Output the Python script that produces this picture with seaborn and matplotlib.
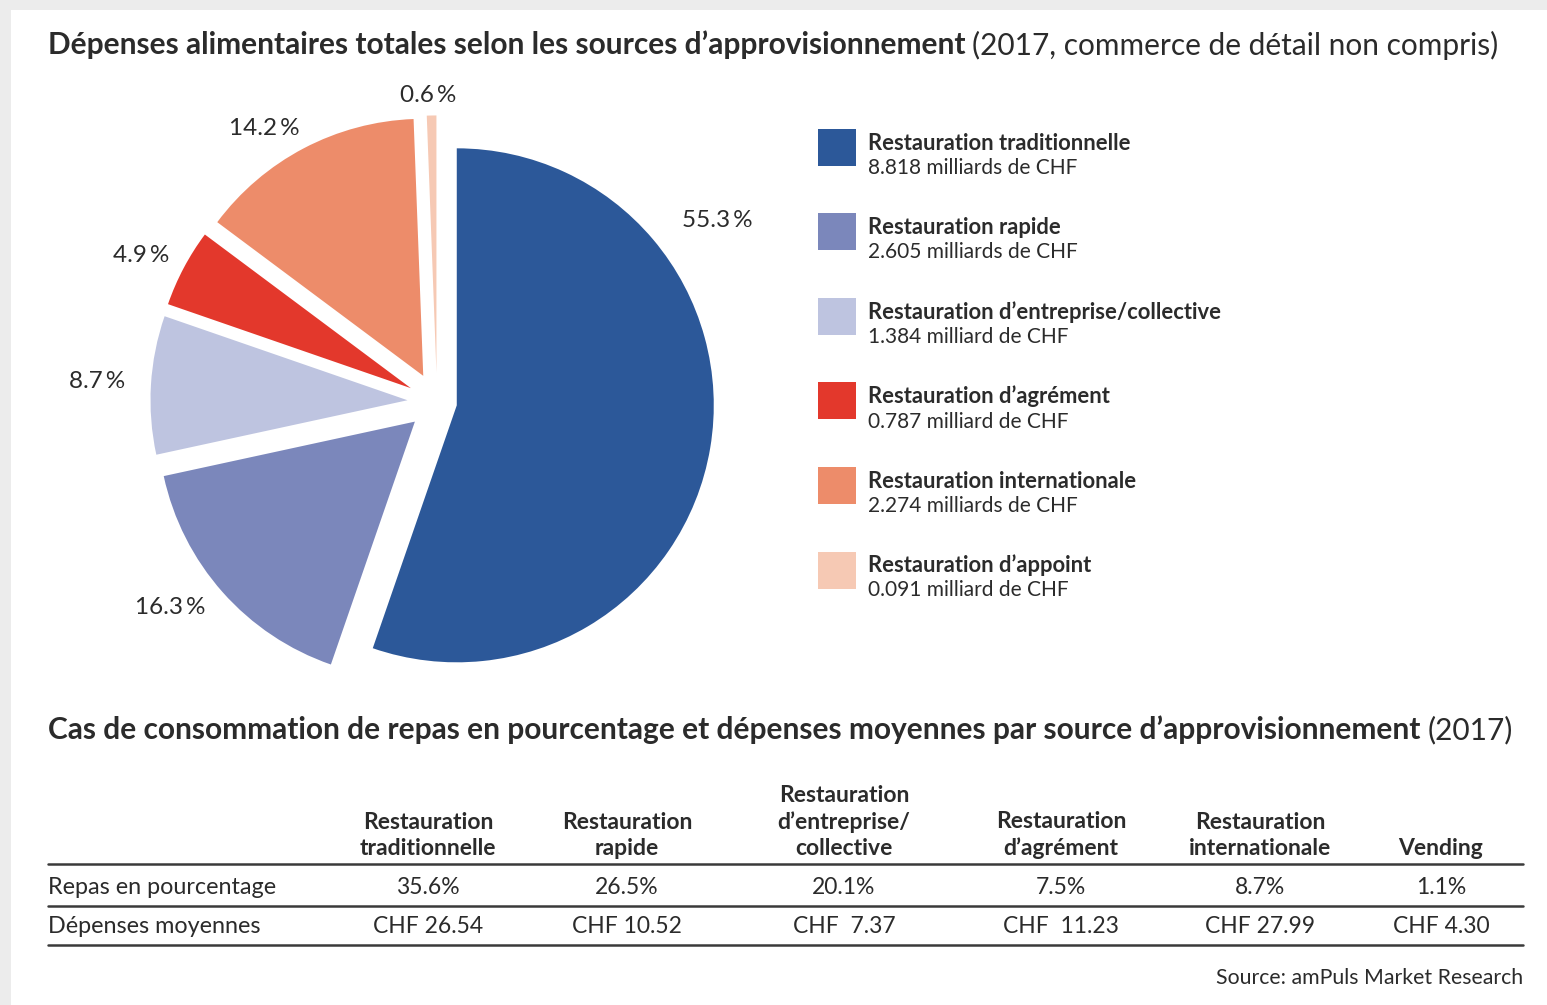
import numpy as np
import seaborn as sns
import matplotlib.pyplot as plt
from matplotlib.patches import Rectangle
from matplotlib.lines import Line2D

# Pie data
pie_labels = ['Restauration traditionnelle', 'Restauration rapide',
              'Restauration d’entreprise/collective', 'Restauration d’agrément',
              'Restauration internationale', 'Restauration d’appoint']
pie_shares = [55.3, 16.3, 8.7, 4.9, 14.2, 0.6]
pie_amounts = ['8.818 milliards de CHF', '2.605 milliards de CHF', '1.384 milliard de CHF',
               '0.787 milliard de CHF', '2.274 milliards de CHF', '0.091 milliard de CHF']
pie_colors = ['#2c5899', '#7b87bb', '#bec4e0', '#e3382c', '#ed8c6a', '#f6c9b4']

# Table data
table_headers = ['Restauration\ntraditionnelle', 'Restauration\nrapide',
                 'Restauration\nd’entreprise/\ncollective', 'Restauration\nd’agrément',
                 'Restauration\ninternationale', 'Vending']
row_labels = ['Repas en pourcentage', 'Dépenses moyennes']
meal_share = ['35.6%', '26.5%', '20.1%', '7.5%', '8.7%', '1.1%']
avg_spend = ['CHF 26.54', 'CHF 10.52', 'CHF  7.37', 'CHF  11.23', 'CHF 27.99', 'CHF 4.30']

sns.set_theme(style='white')
plt.rcParams['font.family'] = ['Lato', 'DejaVu Sans']

W, H = 1547, 1005
fig = plt.figure(figsize=(W / 100, H / 100), dpi=100, facecolor='#ececec')
TXT = '#2b2b2b'


def px(x, y):
    # pixel position (from top-left) -> figure fraction
    return x / W, 1 - y / H


# white page with the grey frame at top/left
fig.add_artist(Rectangle((11 / W, 0), 1, 1 - 10 / H, transform=fig.transFigure,
                         facecolor='white', edgecolor='none', zorder=0))


def two_part_title(x, y, bold, regular, size):
    t = fig.text(*px(x, y), bold, fontsize=size, fontweight='bold', color=TXT, va='center')
    fig.canvas.draw()
    bb = t.get_window_extent()
    fig.text(bb.x1 / W + 7 / W, px(x, y)[1], regular, fontsize=size, color=TXT, va='center')


two_part_title(48, 45, 'Dépenses alimentaires totales selon les sources d’approvisionnement',
               '(2017, commerce de détail non compris)', 21.5)

# Pie chart
cx, cy, R = 437, 402, 257
span = 1.35
side = 2 * span * R
ax = fig.add_axes([(cx - side / 2) / W, (H - cy - side / 2) / H, side / W, side / H])
explode = [0.078, 0.115, 0.115, 0.115, 0.115, 0.115]
wedges, texts, autotexts = ax.pie(
    pie_shares, colors=sns.color_palette(pie_colors), explode=explode,
    startangle=90, counterclock=False, autopct=lambda p: f'{p:.1f}\u2009%',
    pctdistance=1.17, wedgeprops=dict(linewidth=0),
    textprops=dict(fontsize=17.5, color=TXT))


def nudge(t, dang, scale=1.0):
    # rotate/scale a label position around the pie centre
    x, y = t.get_position()
    a = np.arctan2(y, x) + np.deg2rad(dang)
    r = np.hypot(x, y) * scale
    t.set_position((r * np.cos(a), r * np.sin(a)))


ang = np.deg2rad(33)
autotexts[0].set_position((1.3 * np.cos(ang), 1.3 * np.sin(ang)))
nudge(autotexts[1], -4.0, 1.02)
nudge(autotexts[2], 0.0, 1.03)
nudge(autotexts[3], 1.5)
nudge(autotexts[4], 4.5, 0.98)
nudge(autotexts[5], 0.6, 0.93)
ax.set_xlim(-span, span)
ax.set_ylim(-span, span)
ax.set_aspect('equal')
ax.axis('off')

# Legend
for i, (lab, amt, col) in enumerate(zip(pie_labels, pie_amounts, pie_colors)):
    y0 = 143 + i * 84.5
    fig.add_artist(Rectangle(px(818, y0 + 23), 38 / W, 37 / H, transform=fig.transFigure,
                             facecolor=col, edgecolor='none'))
    fig.text(*px(868, y0), lab, fontsize=15.8, fontweight='bold', color=TXT, va='center')
    fig.text(*px(868, y0 + 25), amt, fontsize=15, color=TXT, va='center')

# Second title
two_part_title(48, 730, 'Cas de consommation de repas en pourcentage et dépenses moyennes par source d’approvisionnement',
               '(2017)', 21.5)

# Table
col_x = [428, 627, 844, 1061, 1260, 1441]
for x, head, v1, v2 in zip(col_x, table_headers, meal_share, avg_spend):
    fig.text(*px(x, 859), head, fontsize=16.5, fontweight='bold', color=TXT,
             ha='center', va='bottom', linespacing=1.3)
    fig.text(*px(x, 887), v1, fontsize=16.5, color=TXT, ha='center', va='center')
    fig.text(*px(x, 926), v2, fontsize=16.5, color=TXT, ha='center', va='center')
fig.text(*px(48, 887), row_labels[0], fontsize=16.8, color=TXT, va='center')
fig.text(*px(48, 926), row_labels[1], fontsize=16.8, color=TXT, va='center')

for yl in [864, 906, 945]:
    x0, y0 = px(48, yl)
    x1, _ = px(1523, yl)
    fig.add_artist(Line2D([x0, x1], [y0, y0], transform=fig.transFigure,
                          color='#3a3a3a', linewidth=1.8))

fig.text(*px(1523, 978), 'Source: amPuls Market Research', fontsize=15.3, color=TXT,
         ha='right', va='center')

fig.savefig('out.png', dpi=100, facecolor=fig.get_facecolor())
